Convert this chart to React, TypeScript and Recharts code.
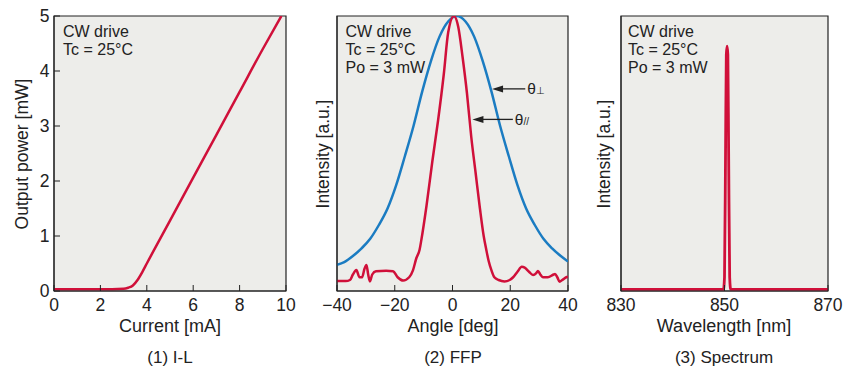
import React from "react";
import {
  LineChart,
  Line,
  XAxis,
  YAxis,
  CartesianGrid,
  ReferenceArea,
  ReferenceLine,
} from "recharts";

// (1) I-L
const IL_CURRENT = [0, 1, 2, 3, 3.2, 3.4, 3.6, 3.8, 4, 5, 6, 7, 8, 9, 9.8];
const IL_POWER = [0.03, 0.03, 0.03, 0.04, 0.06, 0.1, 0.2, 0.34, 0.5, 1.28, 2.06, 2.84, 3.62, 4.4, 5.0];
const IL_TICKS_X = [0, 2, 4, 6, 8, 10];
const IL_TICKS_Y = [0, 1, 2, 3, 4, 5];

// (2) FFP, perpendicular (blue)
const PERP_ANGLE = [
  -40, -37.5, -34.5, -31.5, -28.5, -25.5, -22.5, -19.5, -16.5, -13.5, -10.5, -7.5, -4.5, -1.5, 1.5, 4.5, 7.5, 10.5,
  13.5, 16.5, 19.5, 22.5, 25.5, 28.5, 31.5, 34.5, 37.5, 40,
];
const PERP_INT = [
  0.095, 0.105, 0.127, 0.155, 0.19, 0.24, 0.3, 0.385, 0.49, 0.6, 0.725, 0.835, 0.925, 0.98, 1.0, 0.98, 0.925, 0.835,
  0.725, 0.6, 0.49, 0.385, 0.3, 0.24, 0.19, 0.155, 0.127, 0.107,
];

// (2) FFP, parallel (red)
const PAR_ANGLE = [
  -40, -37, -35.5, -34.5, -33.3, -32.2, -31.3, -30.5, -29.8, -29.2, -28.6, -27.8, -26.5, -23, -20.6, -19, -17.1, -15,
  -13.7, -12.5, -11.4, -10.8, -9, -7, -5, -3, -1.5, 0.5, 2, 3.5, 5, 6.5, 8, 9.5, 10.8, 11.7, 12.5, 13.5, 14.5, 16, 18,
  19.8, 21, 22.5, 24, 25, 26.5, 27.9, 29, 29.6, 30.4, 31.3, 33, 35, 35.5, 36.3, 37.1, 38, 39.4, 40,
];
const PAR_INT = [
  0.036, 0.036, 0.04, 0.06, 0.076, 0.05, 0.05, 0.08, 0.095, 0.06, 0.035, 0.06, 0.072, 0.074, 0.072, 0.05, 0.038, 0.05,
  0.075, 0.12, 0.15, 0.185, 0.31, 0.47, 0.62, 0.79, 0.94, 1.0, 0.96, 0.85, 0.72, 0.56, 0.43, 0.3, 0.2, 0.15, 0.11, 0.075,
  0.05, 0.04, 0.035, 0.04, 0.05, 0.07, 0.088, 0.085, 0.07, 0.058, 0.065, 0.073, 0.06, 0.05, 0.05, 0.06, 0.062, 0.05,
  0.034, 0.04, 0.05, 0.052,
];
const FFP_TICKS = [-40, -20, 0, 20, 40];

// (3) Spectrum
const SPEC_WL = [830, 840, 849.8, 850.0, 850.2, 850.35, 850.5, 850.65, 850.8, 851.0, 851.2, 860, 870];
const SPEC_INT = [0.006, 0.006, 0.006, 0.05, 0.5, 0.86, 0.89, 0.86, 0.5, 0.05, 0.006, 0.006, 0.006];
const SPEC_TICKS = [830, 850, 870];

const NOTES_IL = ["CW drive", "Tc = 25°C"];
const NOTES = ["CW drive", "Tc = 25°C", "Po = 3 mW"];

const RED = "#d0103a";
const BLUE = "#1b7cc2";
const BG = "#ededea";
const INK = "#222222";
const FONT = "'Liberation Sans', Arial, Helvetica, sans-serif";

const zip = (xs: number[], ys: number[]) => xs.map((x, i) => ({ x, y: ys[i] }));

const ilData = zip(IL_CURRENT, IL_POWER);
const perpData = zip(PERP_ANGLE, PERP_INT);
const parData = zip(PAR_ANGLE, PAR_INT);
const specData = zip(SPEC_WL, SPEC_INT);

const PLOT_TOP = 16;
const X_AXIS_H = 76;
const H = 367;

const minus = (v: number) => (v < 0 ? `\u2212${-v}` : `${v}`);

const arrow = (label: string, sub: string) => (props: any) => {
  const { x1, y1, x2 } = props;
  return (
    <g>
      <line x1={x1 + 9} y1={y1} x2={x2} y2={y1} stroke={INK} strokeWidth={1.3} />
      <polygon points={`${x1},${y1} ${x1 + 11},${y1 - 3.5} ${x1 + 11},${y1 + 3.5}`} fill={INK} />
      <text x={x2 + 2} y={y1 + 5.5} fontSize={15.5} fill={INK} fontFamily={FONT}>
        {label}
        <tspan fontSize={10}>{sub}</tspan>
      </text>
    </g>
  );
};

interface PanelProps {
  left: number;
  width: number;
  yAxisWidth: number;
  marginRight: number;
  xDomain: [number, number];
  yDomain: [number, number];
  xTicks: number[];
  yTicks?: number[];
  children: React.ReactNode;
}

function Panel({ left, width, yAxisWidth, marginRight, xDomain, yDomain, xTicks, yTicks, children }: PanelProps) {
  return (
    <div style={{ position: "absolute", left, top: 0 }}>
      <LineChart width={width} height={H} margin={{ top: PLOT_TOP, right: marginRight, bottom: 0, left: 0 }}>
        <CartesianGrid horizontal={false} vertical={false} fill={BG} fillOpacity={1} />
        <XAxis
          type="number"
          dataKey="x"
          domain={xDomain}
          ticks={xTicks}
          interval={0}
          allowDataOverflow
          height={X_AXIS_H}
          tickSize={-6}
          tickMargin={14}
          stroke={INK}
          tick={{ fontSize: 17.5, fill: INK }}
          tickFormatter={minus}
        />
        <YAxis
          type="number"
          domain={yDomain}
          ticks={yTicks}
          interval={0}
          allowDataOverflow
          width={yAxisWidth}
          tickSize={-6}
          tickMargin={10.5}
          stroke={INK}
          tick={yTicks ? { fontSize: 17.5, fill: INK } : false}
          tickLine={!!yTicks}
        />
        <ReferenceArea
          x1={xDomain[0]}
          x2={xDomain[1]}
          y1={yDomain[0]}
          y2={yDomain[1]}
          fill="none"
          stroke={INK}
          strokeWidth={1.2}
          fillOpacity={0}
        />
        {children}
      </LineChart>
    </div>
  );
}

function Texts() {
  const notes = (x: number, lines: string[]) =>
    lines.map((t, i) => (
      <text key={t} x={x} y={36.5 + i * 18} fontSize={16}>
        {t}
      </text>
    ));
  const yTitle = (x: number, t: string) => (
    <text transform={`translate(${x},154) rotate(-90)`} textAnchor="middle" fontSize={17.5}>
      {t}
    </text>
  );
  const xTitle = (x: number, t: string) => (
    <text x={x} y={332} textAnchor="middle" fontSize={18}>
      {t}
    </text>
  );
  const caption = (x: number, t: string) => (
    <text x={x} y={363} textAnchor="middle" fontSize={17}>
      {t}
    </text>
  );
  return (
    <svg
      width={853}
      height={367}
      style={{ position: "absolute", left: 0, top: 0, pointerEvents: "none" }}
      fill={INK}
      fontFamily={FONT}
    >
      {notes(63, NOTES_IL)}
      {notes(345.5, NOTES)}
      {notes(628, NOTES)}
      {yTitle(27.5, "Output power [mW]")}
      {yTitle(328.5, "Intensity [a.u.]")}
      {yTitle(610, "Intensity [a.u.]")}
      {xTitle(170, "Current [mA]")}
      {xTitle(453, "Angle [deg]")}
      {xTitle(724, "Wavelength [nm]")}
      {caption(170, "(1) I-L")}
      {caption(453, "(2) FFP")}
      {caption(724, "(3) Spectrum")}
    </svg>
  );
}

export default function App() {
  return (
    <div style={{ position: "absolute", left: 0, top: 0, width: 853, height: 367, background: "#fff", fontFamily: FONT }}>
      <Panel left={0} width={300} yAxisWidth={54} marginRight={14} xDomain={[0, 10]} yDomain={[0, 5]} xTicks={IL_TICKS_X} yTicks={IL_TICKS_Y}>
        <Line data={ilData} dataKey="y" type="monotone" stroke={RED} strokeWidth={2.5} dot={false} isAnimationActive={false} />
      </Panel>
      <Panel left={300} width={290} yAxisWidth={37} marginRight={22} xDomain={[-40, 40]} yDomain={[0, 1]} xTicks={FFP_TICKS}>
        <Line data={perpData} dataKey="y" type="monotone" stroke={BLUE} strokeWidth={2.5} dot={false} isAnimationActive={false} />
        <Line data={parData} dataKey="y" type="monotone" stroke={RED} strokeWidth={2.5} dot={false} isAnimationActive={false} />
        <ReferenceLine segment={[{ x: 13.7, y: 0.735 }, { x: 25.2, y: 0.735 }]} shape={arrow("θ", "⊥")} />
        <ReferenceLine segment={[{ x: 6.9, y: 0.624 }, { x: 20.9, y: 0.624 }]} shape={arrow("θ", "//")} />
      </Panel>
      <Panel left={590} width={263} yAxisWidth={31} marginRight={25} xDomain={[830, 870]} yDomain={[0, 1]} xTicks={SPEC_TICKS}>
        <Line data={specData} dataKey="y" type="monotone" stroke={RED} strokeWidth={2.8} dot={false} isAnimationActive={false} />
      </Panel>
      <Texts />
    </div>
  );
}
